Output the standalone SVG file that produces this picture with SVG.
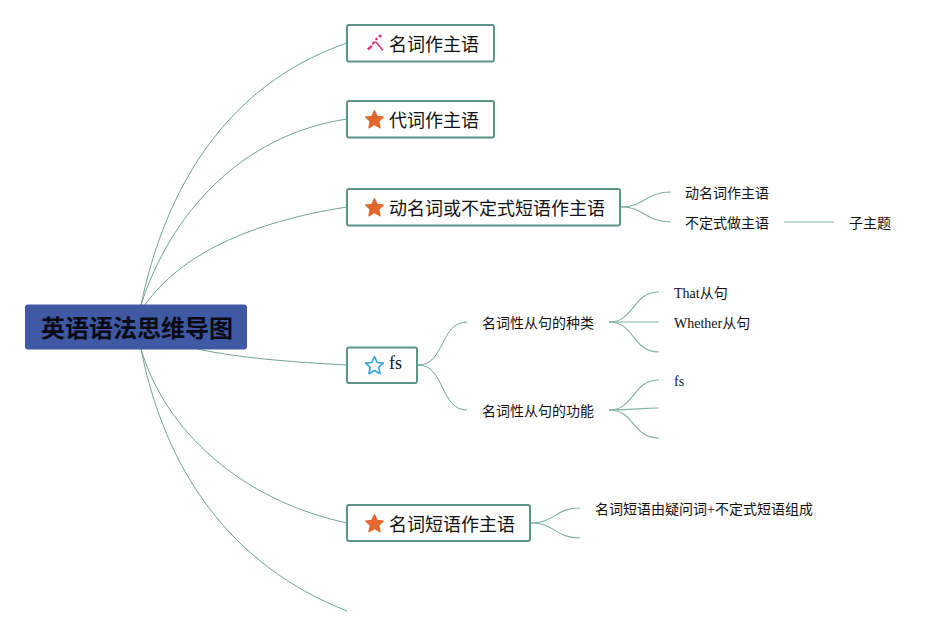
<svg xmlns="http://www.w3.org/2000/svg" width="951" height="636" viewBox="0 0 951 636">
<style>
text{font-family:"Liberation Serif","Noto Sans CJK SC",serif;fill:#111}
.c path{fill:none;stroke:#5f9a8a;stroke-width:.9}
.c .s{stroke:#7fb0a2;stroke-width:1.1}
.n{fill:#fff;stroke:#5b9587;stroke-width:2}
.t1{font-size:18px}
.t2{font-size:14px}
.star{fill:#e4672f;stroke:#e4672f;stroke-width:1.400;stroke-linejoin:round}
</style>
<defs><polygon id="star" points="0,-8.800 2.700,-3 8.800,-2.400 4.200,1.800 5.500,8.200 0,5 -5.500,8.200 -4.200,1.800 -8.800,-2.400 -2.700,-3"/></defs>
<rect width="951" height="636" fill="#fff"/>
<g class="c" id="connectors">
<path d="M141 305C165 190 225 85 347 43"/>
<path d="M141 305C170 215 240 135 347 119"/>
<path d="M145 305C180 255 250 222 347 207"/>
<path d="M197 349C240 358 290 362 347 365"/>
<path d="M141 349C165 430 240 500 347 523"/>
<path d="M141 349C165 470 230 565 347 611"/>
<path class="s" d="M621 207C645 207 645 192 671 192"/>
<path class="s" d="M621 207C645 207 645 222 671 222"/>
<path class="s" d="M784 222H834"/>
<path d="M418 365C445 365 440 322 467 322"/>
<path d="M418 365C445 365 440 410 467 410"/>
<path class="s" d="M609 322C635 322 632 292 659 292"/>
<path class="s" d="M609 322H659"/>
<path class="s" d="M609 322C635 322 632 352 659 352"/>
<path class="s" d="M609 410C635 410 632 380 659 380"/>
<path class="s" d="M609 410C635 410 640 408 659 408"/>
<path class="s" d="M609 410C635 410 632 438 659 438"/>
<path class="s" d="M531 523C555 523 555 508 580 508"/>
<path class="s" d="M531 523C555 523 555 538 580 538"/>
</g>
<g id="root"><rect x="25" y="304.500" width="222" height="45" rx="3" fill="#4059a4"/><text x="137" y="337" text-anchor="middle" font-size="24" font-weight="700" style="font-family:'Noto Sans CJK SC',sans-serif;fill:#0a0a14">英语语法思维导图</text></g>
<g id="n1"><rect class="n" x="347" y="25" width="147" height="36.500" rx="2"/>
<g fill="#e8306f"><path d="M367 48.500l4-3.500 1.500 1.500-3.500 4z"/><path d="M371.500 43.500l2.500-2.500 1.500 1.500-2.500 2.500z"/><circle cx="376.500" cy="39" r="1.300"/><circle cx="380" cy="36" r="1.500"/><path d="M375.500 41.500l7.500 9" stroke="#e8306f" stroke-width="1.600" fill="none"/></g>
<text class="t1" x="389" y="51">名词作主语</text></g>
<g id="n2"><rect class="n" x="347" y="101" width="147" height="36.500" rx="2"/><use href="#star" class="star" x="374.500" y="119.500"/><text class="t1" x="389" y="127">代词作主语</text></g>
<g id="n3"><rect class="n" x="347" y="189" width="273" height="36.500" rx="2"/><use href="#star" class="star" x="374.500" y="207.500"/><text class="t1" x="389" y="215">动名词或不定式短语作主语</text></g>
<g id="n4"><rect class="n" x="347" y="347.500" width="70" height="35.500" rx="2"/><use href="#star" fill="#fff" stroke="#35a3dc" stroke-width="1.600" stroke-linejoin="round" x="374.500" y="365.500"/><text x="389" y="369" font-size="18">fs</text></g>
<g id="n5"><rect class="n" x="347" y="505" width="183" height="36" rx="2"/><use href="#star" class="star" x="374.500" y="523.500"/><text class="t1" x="389" y="531">名词短语作主语</text></g>
<g id="t1"><text class="t2" x="685" y="198">动名词作主语</text></g>
<g id="t2"><text class="t2" x="685" y="228">不定式做主语</text></g>
<g id="t3"><text class="t2" x="849" y="228">子主题</text></g>
<g id="t4"><text class="t2" x="482" y="328">名词性从句的种类</text></g>
<g id="t5"><text class="t2" x="482" y="416">名词性从句的功能</text></g>
<g id="t6"><text class="t2" x="674" y="298">That从句</text></g>
<g id="t7"><text class="t2" x="674" y="328">Whether从句</text></g>
<g id="t8"><text class="t2" x="674" y="386">fs</text></g>
<g id="t9"><text class="t2" x="595" y="514">名词短语由疑问词+不定式短语组成</text></g>
</svg>
